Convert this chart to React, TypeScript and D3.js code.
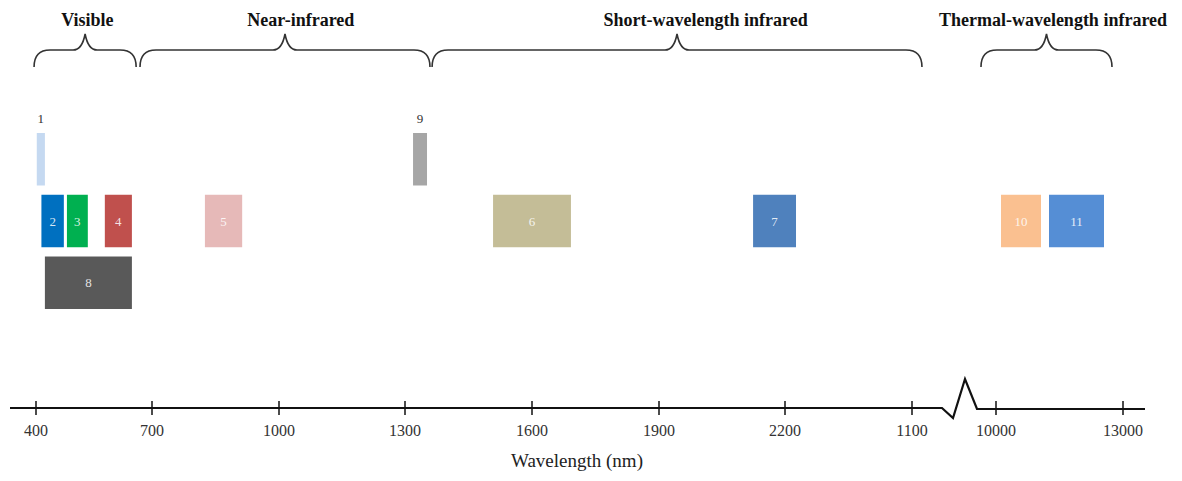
import React, { useEffect, useRef } from "react";
import * as d3 from "d3";

// axis ticks (nm) and the labels printed under them
const tickValues = [400, 700, 1000, 1300, 1600, 1900, 2200, 2500, 10000, 13000];
const tickLabels = ["400", "700", "1000", "1300", "1600", "1900", "2200", "1100", "10000", "13000"];

// spectral regions shown with braces
const regionNames = ["Visible", "Near-infrared", "Short-wavelength infrared", "Thermal-wavelength infrared"];
const regionStart = [395, 669, 1364, 8660];
const regionEnd = [659, 1359, 3390, 12740];
const regionLabelAt = [533, 1052, 2011, 11346];

// bands
const bandIds = ["1", "2", "3", "4", "5", "6", "7", "8", "9", "10", "11"];
const bandStart = [402, 414, 480, 578, 825, 1508, 2124, 423, 1319, 10118, 11252];
const bandEnd = [423, 472, 534, 648, 913, 1692, 2226, 648, 1352, 11063, 12551];
const bandRow = [0, 1, 1, 1, 1, 1, 1, 2, 0, 1, 1];
const bandColors = ["#c5d9f1", "#0070c0", "#00b050", "#c0504d", "#e6b9b8", "#c4bd97",
  "#4f81bd", "#595959", "#a6a6a6", "#fac090", "#558ed5"];

const W = 1182;
const H = 481;
const FONT = "Liberation Serif, serif";

const App = () => {
  const svgRef = useRef(null);

  useEffect(() => {
    document.body.style.margin = "0";
    const svg = d3.select(svgRef.current);
    svg.selectAll("*").remove();

    // piecewise scale, the stretch between 2500 and 10000 is the axis break
    const x = d3.scaleLinear()
      .domain(tickValues)
      .range([36, 152, 279, 405, 532, 659, 785, 912, 996, 1123]);

    const y = d3.scaleBand()
      .domain([0, 1, 2])
      .range([133, 309])
      .paddingInner(0.15);

    const axisY = 408;

    // braces
    const yb = 67, ym = 50, yt = 34;
    const brace = (x1, x2) => {
      const xm = (x1 + x2) / 2;
      return `M${x1},${yb} Q${x1},${ym} ${x1 + 16},${ym} L${xm - 12},${ym} ` +
        `Q${xm - 3},${ym} ${xm},${yt} Q${xm + 3},${ym} ${xm + 12},${ym} ` +
        `L${x2 - 16},${ym} Q${x2},${ym} ${x2},${yb}`;
    };

    const regions = regionNames.map((name, i) => ({
      name, start: regionStart[i], end: regionEnd[i], at: regionLabelAt[i],
    }));

    svg.selectAll("path.brace")
      .data(regions)
      .join("path")
      .attr("class", "brace")
      .attr("d", d => brace(x(d.start), x(d.end)))
      .attr("fill", "none")
      .attr("stroke", "#333")
      .attr("stroke-width", 1.6);

    svg.selectAll("text.region")
      .data(regions)
      .join("text")
      .attr("class", "region")
      .attr("x", d => x(d.at))
      .attr("y", 26)
      .attr("text-anchor", "middle")
      .attr("font-family", FONT)
      .attr("font-weight", "bold")
      .attr("font-size", 18)
      .attr("fill", "#111")
      .text(d => d.name);

    // bands
    const bands = bandIds.map((id, i) => ({
      id, start: bandStart[i], end: bandEnd[i], row: bandRow[i], color: bandColors[i],
    }));

    svg.selectAll("rect.band")
      .data(bands)
      .join("rect")
      .attr("class", "band")
      .attr("x", d => x(d.start))
      .attr("y", d => y(d.row))
      .attr("width", d => x(d.end) - x(d.start))
      .attr("height", y.bandwidth())
      .attr("fill", d => d.color);

    svg.selectAll("text.band")
      .data(bands)
      .join("text")
      .attr("class", "band")
      .attr("x", d => (x(d.start) + x(d.end)) / 2)
      .attr("y", d => d.row === 0 ? y(d.row) - 15 : y(d.row) + y.bandwidth() / 2)
      .attr("dy", ".35em")
      .attr("text-anchor", "middle")
      .attr("font-family", FONT)
      .attr("font-size", 13)
      .attr("fill", d => d.row === 0 ? "#333" : "#fff")
      .attr("fill-opacity", d => d.row === 0 ? 1 : 0.85)
      .text(d => d.id);

    // axis line with break
    const xa = x(2500), xb = x(10000);
    const axisPath = d3.path();
    axisPath.moveTo(10, axisY);
    axisPath.lineTo(xa + 30, axisY);
    axisPath.lineTo(xa + 41, axisY + 10);
    axisPath.lineTo(xa + 53, axisY - 29);
    axisPath.lineTo(xb - 19, axisY + 1);
    axisPath.lineTo(x(13000) + 22, axisY + 1);

    svg.append("path")
      .attr("d", axisPath.toString())
      .attr("fill", "none")
      .attr("stroke", "#111")
      .attr("stroke-width", 2.2)
      .attr("stroke-linejoin", "miter");

    svg.selectAll("line.tick")
      .data(tickValues)
      .join("line")
      .attr("class", "tick")
      .attr("x1", d => x(d))
      .attr("x2", d => x(d))
      .attr("y1", axisY - 7)
      .attr("y2", axisY + 7)
      .attr("stroke", "#111")
      .attr("stroke-width", 1.5);

    svg.selectAll("text.tick")
      .data(tickValues)
      .join("text")
      .attr("class", "tick")
      .attr("x", d => x(d))
      .attr("y", 436)
      .attr("text-anchor", "middle")
      .attr("font-family", FONT)
      .attr("font-size", 16)
      .attr("fill", "#333")
      .text((d, i) => tickLabels[i]);

    svg.append("text")
      .attr("x", 577)
      .attr("y", 467)
      .attr("text-anchor", "middle")
      .attr("font-family", FONT)
      .attr("font-size", 19)
      .attr("fill", "#222")
      .text("Wavelength (nm)");
  }, []);

  return <svg ref={svgRef} width={W} height={H} style={{ display: "block", background: "#fff" }}></svg>;
};

export default App;
